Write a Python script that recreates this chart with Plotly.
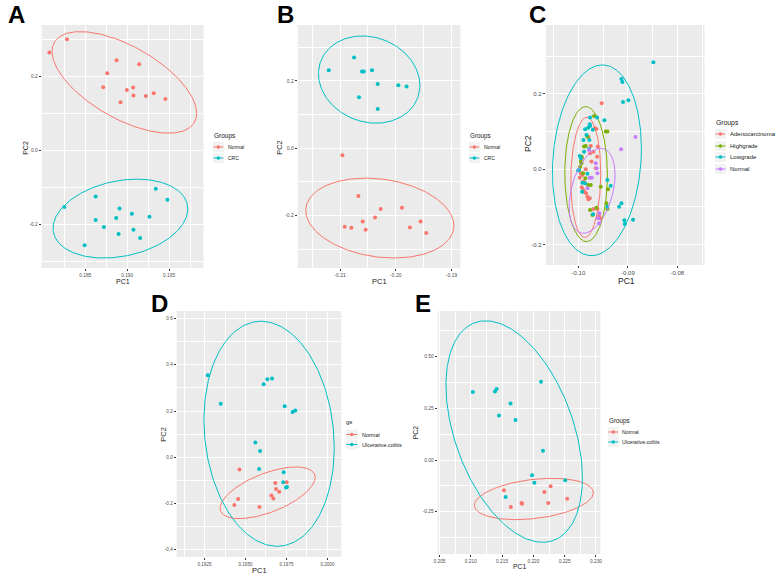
import numpy as np
import plotly.graph_objects as go

RED = "#F8766D"; GREEN = "#7CAE00"; CYAN = "#00BFC4"; PURPLE = "#C77CFF"
FONT = "Liberation Sans, Arial, sans-serif"

# ---------------- Panel A : Normal vs CRC ----------------
a_normal_pc1 = [0.18071, 0.18282, 0.18873, 0.18762, 0.19143, 0.18714, 0.18996, 0.19071, 0.19075, 0.18921, 0.19222, 0.19317, 0.19456]
a_normal_pc2 = [0.2655, 0.3016, 0.2447, 0.2095, 0.2339, 0.1716, 0.1643, 0.1707, 0.1490, 0.1309, 0.1481, 0.1553, 0.1400]
a_crc_pc1 = [0.18250, 0.18623, 0.18623, 0.18722, 0.18492, 0.18909, 0.18869, 0.18897, 0.19056, 0.19075, 0.19155, 0.19266, 0.19341, 0.19480]
a_crc_pc2 = [-0.1535, -0.1246, -0.1887, -0.2077, -0.2573, -0.1571, -0.1833, -0.2266, -0.1716, -0.2149, -0.2375, -0.1797, -0.1038, -0.1336]
# ellipse: centre x, centre y, half width, half height, x where ellipse reaches its top
a_normal_ellipse = [0.18966, 0.1847, 0.00863, 0.1377, 0.1844]
a_crc_ellipse = [0.18919, -0.1847, 0.00804, 0.1070, 0.19115]
a_xticks = [0.185, 0.190, 0.195]
a_xlabels = ["0.185", "0.190", "0.195"]
a_yticks = [-0.2, 0.0, 0.2]
a_ylabels = ["-0.2", "0.0", "0.2"]

# ---------------- Panel B : Normal vs CRC ----------------
b_normal_pc1 = [-0.20958, -0.20672, -0.20272, -0.19890, -0.20594, -0.20373, -0.20916, -0.20797, -0.20540, -0.19746, -0.19555, -0.19454]
b_normal_pc2 = [-0.0208, -0.1426, -0.1812, -0.1772, -0.2178, -0.2059, -0.2337, -0.2366, -0.2426, -0.2356, -0.2178, -0.2525]
b_crc_pc1 = [-0.21203, -0.20749, -0.20606, -0.20576, -0.20427, -0.20325, -0.20660, -0.20325, -0.19955, -0.19806]
b_crc_pc2 = [0.2317, 0.2693, 0.2277, 0.2277, 0.2317, 0.1911, 0.1515, 0.1168, 0.1871, 0.1832]
b_normal_ellipse = [-0.20287, -0.2079, 0.01329, 0.1188, -0.2054]
b_crc_ellipse = [-0.20478, 0.2040, 0.00910, 0.1297, -0.2060]
b_xticks = [-0.21, -0.20, -0.19]
b_xlabels = ["-0.21", "-0.20", "-0.19"]
b_yticks = [-0.2, 0.0, 0.2]
b_ylabels = ["-0.2", "0.0", "0.2"]

# ---------------- Panel C : four groups ----------------
c_adeno_pc1 = [-0.09529, -0.09670, -0.09636, -0.09798, -0.09751, -0.09697, -0.09623, -0.09737, -0.09933, -0.09852,
               -0.09953, -0.09919, -0.09973, -0.09899, -0.09933, -0.09906, -0.09886, -0.09845, -0.09818, -0.09771,
               -0.09798, -0.09697, -0.09616, -0.09582, -0.09562, -0.09609, -0.09764, -0.09650]
c_adeno_pc2 = [0.1752, 0.1089, 0.1071, 0.0867, 0.0620, 0.0469, 0.0336, 0.0204, 0.0292, 0.0000,
               -0.0106, -0.0150, -0.0221, -0.0327, -0.0478, -0.0549, -0.0593, -0.0637, -0.0726, -0.0770,
               -0.0797, -0.1053, -0.1053, -0.1239, -0.1301, 0.0602, 0.0425, 0.0027]
c_high_pc1 = [-0.09684, -0.09448, -0.09414, -0.09818, -0.09886, -0.09852, -0.09933, -0.09953, -0.09939, -0.09859,
              -0.09805, -0.09751, -0.09549, -0.09401, -0.09434, -0.09414, -0.09636, -0.09764, -0.09717, -0.09906, -0.09966]
c_high_pc2 = [0.1416, 0.1000, 0.1000, 0.0867, 0.0602, 0.0620, 0.0336, 0.0204, 0.0159, -0.0239,
              -0.0416, -0.0416, -0.0460, -0.0531, -0.0903, -0.1053, -0.1018, -0.1080, -0.1212, -0.0106, 0.0071]
c_low_pc1 = [-0.08485, -0.09131, -0.09111, -0.09098, -0.08990, -0.09475, -0.09623, -0.09764, -0.09771, -0.09764,
             -0.09805, -0.09865, -0.09710, -0.09838, -0.09899, -0.09778, -0.09785, -0.09886, -0.09973, -0.09953,
             -0.09987, -0.10007, -0.09818, -0.09919, -0.09865, -0.09926, -0.09414, -0.09347, -0.09704, -0.09414,
             -0.09178, -0.09131, -0.09071, -0.09064, -0.08896]
c_low_pc2 = [0.2841, 0.2398, 0.2319, 0.1788, 0.1832, 0.1301, 0.1372, 0.1372, 0.1195, 0.1151,
             0.1106, 0.1062, 0.1053, 0.0912, 0.0779, 0.0779, 0.0540, 0.0469, 0.0354, 0.0292,
             -0.0018, -0.0035, -0.0115, -0.0354, -0.0372, -0.0593, -0.0283, -0.0434, -0.1195, -0.0991,
             -0.0991, -0.0903, -0.1354, -0.1451, -0.1336]
c_normal_pc1 = [-0.08848, -0.09138, -0.09630, -0.09616, -0.09771, -0.09731, -0.09818, -0.09576, -0.09603, -0.09582, -0.09785, -0.09650]
c_normal_pc2 = [0.0858, 0.0531, 0.0027, -0.0106, -0.0221, -0.0221, -0.0504, -0.1168, -0.1301, -0.1434, 0.0513, 0.0159]
c_adeno_ellipse = [-0.09852, -0.0213, 0.00303, 0.1593, -0.09832]
c_high_ellipse = [-0.09845, -0.0128, 0.00431, 0.1792, -0.09852]
c_low_ellipse = [-0.09626, 0.0239, 0.00899, 0.2531, -0.09515]
c_normal_ellipse = [-0.09724, -0.0571, 0.00465, 0.1128, -0.09549]
c_xticks = [-0.10, -0.09, -0.08]
c_xlabels = ["-0.10", "-0.09", "-0.08"]
c_yticks = [-0.2, 0.0, 0.2]
c_ylabels = ["-0.2", "0.0", "0.2"]

# ---------------- Panel D : Normal vs Ulcerative colitis ----------------
d_normal_pc1 = [0.19463, 0.19455, 0.19432, 0.19585, 0.19682, 0.19751, 0.19686, 0.19706, 0.19658, 0.19670]
d_normal_pc2 = [-0.0537, -0.1807, -0.2066, -0.2153, -0.1114, -0.1085, -0.1374, -0.1490, -0.1662, -0.1792]
d_uc_pc1 = [0.19270, 0.19349, 0.19560, 0.19589, 0.19583, 0.19611, 0.19633, 0.19662, 0.19739, 0.19787, 0.19804, 0.19733, 0.19730, 0.19747, 0.19753]
d_uc_pc2 = [0.3547, 0.2320, 0.0632, 0.0271, -0.0508, 0.3157, 0.3374, 0.3403, 0.2205, 0.1960, 0.2017, -0.0652, -0.1085, -0.1316, -0.1287]
d_normal_ellipse = [0.19635, -0.1540, 0.00290, 0.1118, 0.19808]
d_uc_ellipse = [0.19644, 0.1015, 0.003975, 0.4870, 0.19595]
d_xticks = [0.1925, 0.1950, 0.1975, 0.2000]
d_xlabels = ["0.1925", "0.1950", "0.1975", "0.2000"]
d_yticks = [-0.4, -0.2, 0.0, 0.2, 0.4, 0.6]
d_ylabels = ["-0.4", "-0.2", "0.0", "0.2", "0.4", "0.6"]

# ---------------- Panel E : Normal vs Ulcerative colitis ----------------
e_normal_pc1 = [0.21529, 0.21640, 0.21810, 0.21820, 0.22175, 0.22275, 0.22238, 0.22540]
e_normal_pc2 = [-0.1464, -0.2268, -0.2075, -0.2108, -0.1544, -0.1271, -0.2075, -0.1866]
e_uc_pc1 = [0.21032, 0.21386, 0.21413, 0.21635, 0.21450, 0.21714, 0.22122, 0.22153, 0.21979, 0.22016, 0.21556, 0.22508]
e_uc_pc2 = [0.3282, 0.3314, 0.3427, 0.2735, 0.2156, 0.1931, 0.3781, 0.0450, -0.0740, -0.1094, -0.1786, -0.0981]
e_normal_ellipse = [0.22008, -0.1882, 0.00950, 0.0998, 0.22296]
e_uc_ellipse = [0.21693, 0.1376, 0.01090, 0.5350, 0.21238]
e_xticks = [0.205, 0.210, 0.215, 0.220, 0.225, 0.230]
e_xlabels = ["0.205", "0.210", "0.215", "0.220", "0.225", "0.230"]
e_yticks = [-0.25, 0.0, 0.25, 0.50]
e_ylabels = ["-0.25", "0.00", "0.25", "0.50"]

# ---------------- helpers ----------------
W, H = 779, 579


def fx(px):
    return px / W


def fy(py):
    return 1 - py / H


def ellipse_path(params, n=241):
    cx, cy, hw, hh, xtop = params
    phi = np.arccos(np.clip((xtop - cx) / hw, -1, 1))
    t = np.linspace(0, 2 * np.pi, n)
    return cx + hw * np.cos(t), cy + hh * np.cos(t - phi)


def minor_vals(ticks):
    d = ticks[1] - ticks[0]
    return [ticks[0] - d / 2] + [(a + b) / 2 for a, b in zip(ticks[:-1], ticks[1:])] + [ticks[-1] + d / 2]


panels = [
    dict(letter="A", box=(38, 201, 25, 268), xr=[0.1798, 0.1991], yr=[-0.3187, 0.3404],
         xt=a_xticks, xl=a_xlabels, yt=a_yticks, yl=a_ylabels, tick_fs=4.8, title_fs=7,
         letter_pos=(13, 15), pc1_pos=(119.5, 281), pc2_pos=(21, 148),
         legend=dict(title="Groups", tpos=(210, 136), ys=[147, 158], key=(211, 221), tx=224, tfs=6.5, ifs=5),
         groups=[("Normal", RED, a_normal_pc1, a_normal_pc2, a_normal_ellipse),
                 ("CRC", CYAN, a_crc_pc1, a_crc_pc2, a_crc_ellipse)]),
    dict(letter="B", box=(296, 460, 25, 268), xr=[-0.2176, -0.1884], yr=[-0.3564, 0.3663],
         xt=b_xticks, xl=b_xlabels, yt=b_yticks, yl=b_ylabels, tick_fs=5, title_fs=7.5,
         letter_pos=(284, 15), pc1_pos=(378.5, 281), pc2_pos=(277, 147),
         legend=dict(title="Groups", tpos=(468, 136), ys=[147, 158], key=(469, 479), tx=482, tfs=6.3, ifs=5),
         groups=[("Normal", RED, b_normal_pc1, b_normal_pc2, b_normal_ellipse),
                 ("CRC", CYAN, b_crc_pc1, b_crc_pc2, b_crc_ellipse)]),
    dict(letter="C", box=(546, 706, 25, 265), xr=[-0.1066, -0.0745], yr=[-0.254, 0.383],
         xt=c_xticks, xl=c_xlabels, yt=c_yticks, yl=c_ylabels, tick_fs=6, title_fs=8.5,
         letter_pos=(538, 15), pc1_pos=(627, 281), pc2_pos=(528, 143),
         legend=dict(title="Groups", tpos=(716, 123), ys=[134, 146, 157, 169], key=(717, 727), tx=730, tfs=6.8, ifs=6),
         groups=[("Adenocarcinoma", RED, c_adeno_pc1, c_adeno_pc2, c_adeno_ellipse),
                 ("Highgrade", GREEN, c_high_pc1, c_high_pc2, c_high_ellipse),
                 ("Lowgrade", CYAN, c_low_pc1, c_low_pc2, c_low_ellipse),
                 ("Normal", PURPLE, c_normal_pc1, c_normal_pc2, c_normal_ellipse)]),
    dict(letter="D", box=(174, 340, 311, 557), xr=[0.1908, 0.20085], yr=[-0.432, 0.633],
         xt=d_xticks, xl=d_xlabels, yt=d_yticks, yl=d_ylabels, tick_fs=4.6, title_fs=7.5,
         letter_pos=(157, 303), pc1_pos=(257, 570), pc2_pos=(160, 434),
         legend=dict(title="gs", tpos=(343, 422), ys=[434.5, 444.5], key=(345, 356), tx=359, tfs=6, ifs=5.5),
         groups=[("Normal", RED, d_normal_pc1, d_normal_pc2, d_normal_ellipse),
                 ("Ulcerative.colitis", CYAN, d_uc_pc1, d_uc_pc2, d_uc_ellipse)]),
    dict(letter="E", box=(437, 601, 311, 554), xr=[0.2047, 0.2307], yr=[-0.454, 0.72],
         xt=e_xticks, xl=e_xlabels, yt=e_yticks, yl=e_ylabels, tick_fs=4.8, title_fs=6.8,
         letter_pos=(422, 303), pc1_pos=(519, 566), pc2_pos=(415, 432.5),
         legend=dict(title="Groups", tpos=(608, 421), ys=[432, 442], key=(609, 619), tx=621, tfs=6.3, ifs=5.2),
         groups=[("Normal", RED, e_normal_pc1, e_normal_pc2, e_normal_ellipse),
                 ("Ulcerative.colitis", CYAN, e_uc_pc1, e_uc_pc2, e_uc_ellipse)]),
]

fig = go.Figure()
layout = dict(width=W, height=H, margin=dict(l=0, r=0, t=0, b=0), paper_bgcolor="white",
              plot_bgcolor="#EBEBEB", showlegend=False, font=dict(family=FONT, color="black"))
annotations, shapes = [], []

for i, p in enumerate(panels, start=1):
    suf = "" if i == 1 else str(i)
    xa, ya = "x" + suf, "y" + suf
    l, r, t, b = p["box"]
    common = dict(showgrid=True, gridcolor="white", gridwidth=1, zeroline=False, showline=False,
                  ticks="outside", ticklen=2, tickwidth=0.7, tickcolor="#333333", fixedrange=True,
                  tickfont=dict(size=p["tick_fs"], color="#4D4D4D", family=FONT), tickmode="array")
    layout["xaxis" + suf] = dict(common, domain=[fx(l), fx(r)], range=p["xr"], anchor=ya,
                                 tickvals=p["xt"], ticktext=p["xl"],
                                 minor=dict(tickmode="array", tickvals=minor_vals(p["xt"]), showgrid=True,
                                            gridcolor="white", gridwidth=0.5, ticks=""))
    layout["yaxis" + suf] = dict(common, domain=[fy(b), fy(t)], range=p["yr"], anchor=xa,
                                 tickvals=p["yt"], ticktext=p["yl"],
                                 minor=dict(tickmode="array", tickvals=minor_vals(p["yt"]), showgrid=True,
                                            gridcolor="white", gridwidth=0.5, ticks=""))
    for name, col, px1, px2, ell in p["groups"]:
        fig.add_trace(go.Scatter(x=px1, y=px2, mode="markers", name=name, xaxis=xa, yaxis=ya,
                                 marker=dict(size=4, color=col, line=dict(width=0)), hoverinfo="x+y+name"))
        ex, ey = ellipse_path(ell)
        fig.add_trace(go.Scatter(x=ex, y=ey, mode="lines", name=name, xaxis=xa, yaxis=ya,
                                 line=dict(color=col, width=1), hoverinfo="skip"))
    # panel letter
    annotations.append(dict(text="<b>%s</b>" % p["letter"], x=fx(p["letter_pos"][0]), y=fy(p["letter_pos"][1]),
                            xref="paper", yref="paper", showarrow=False, xanchor="center", yanchor="middle",
                            font=dict(size=24, family=FONT, color="black")))
    # axis titles
    annotations.append(dict(text="PC1", x=fx(p["pc1_pos"][0]), y=fy(p["pc1_pos"][1]), xref="paper", yref="paper",
                            showarrow=False, xanchor="center", yanchor="middle",
                            font=dict(size=p["title_fs"], family=FONT, color="#1a1a1a")))
    annotations.append(dict(text="PC2", x=fx(p["pc2_pos"][0]), y=fy(p["pc2_pos"][1]), xref="paper", yref="paper",
                            showarrow=False, xanchor="center", yanchor="middle", textangle=-90,
                            font=dict(size=p["title_fs"], family=FONT, color="#1a1a1a")))
    # legend (ggplot style: line + point keys)
    lg = p["legend"]
    annotations.append(dict(text=lg["title"], x=fx(lg["tpos"][0]), y=fy(lg["tpos"][1]), xref="paper", yref="paper",
                            showarrow=False, xanchor="left", yanchor="middle",
                            font=dict(size=lg["tfs"], family=FONT, color="#1a1a1a")))
    for (name, col, *_), yy in zip(p["groups"], lg["ys"]):
        k0, k1 = lg["key"]
        shapes.append(dict(type="rect", xref="paper", yref="paper", x0=fx(k0 - 0.5), x1=fx(k1 + 0.5),
                           y0=fy(yy + 5), y1=fy(yy - 5), fillcolor="#F2F2F2", line=dict(width=0), layer="below"))
        shapes.append(dict(type="line", xref="paper", yref="paper", x0=fx(k0), x1=fx(k1), y0=fy(yy), y1=fy(yy),
                           line=dict(color=col, width=1)))
        km = (k0 + k1) / 2
        shapes.append(dict(type="circle", xref="paper", yref="paper", x0=fx(km - 1.8), x1=fx(km + 1.8),
                           y0=fy(yy + 1.8), y1=fy(yy - 1.8), fillcolor=col, line=dict(width=0)))
        annotations.append(dict(text=name, x=fx(lg["tx"]), y=fy(yy), xref="paper", yref="paper",
                                showarrow=False, xanchor="left", yanchor="middle",
                                font=dict(size=lg["ifs"], family=FONT, color="#1a1a1a")))

layout["annotations"] = annotations
layout["shapes"] = shapes
fig.update_layout(**layout)
fig.write_html("out.html", config={"displayModeBar": False},
               post_script="document.body.style.margin='0px';document.body.style.overflow='hidden';")
